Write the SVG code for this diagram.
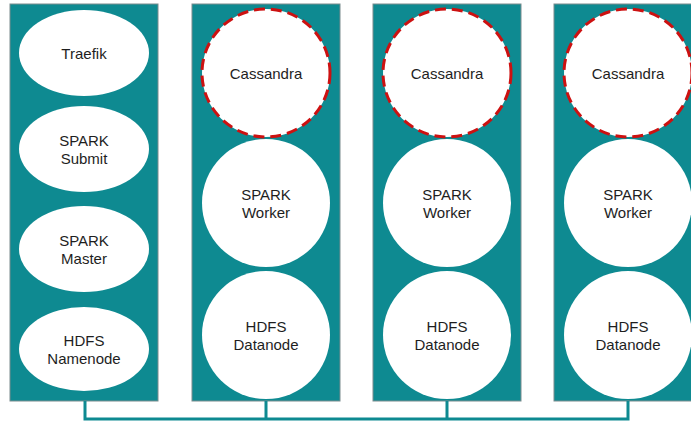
<svg xmlns="http://www.w3.org/2000/svg" width="691" height="422" viewBox="0 0 691 422">
<style>
.panel{fill:#0e8a91;stroke:#7a8c8e;stroke-width:1}
.node{fill:#ffffff;stroke:none}
.cass{fill:#ffffff;stroke:#cc1111;stroke-width:3;stroke-dasharray:11 6}
.lbl{font-family:"Liberation Sans",Arial,sans-serif;font-size:15px;fill:#1e1e1e;text-anchor:middle;dominant-baseline:central}
.conn{fill:none;stroke:#0e8a91;stroke-width:3}
</style>
<rect width="691" height="422" fill="#ffffff"/>
<g id="panels">
<rect class="panel" x="10" y="4" width="148" height="397"/>
<rect class="panel" x="192" y="4" width="148" height="397"/>
<rect class="panel" x="373" y="4" width="148" height="397"/>
<rect class="panel" x="554" y="4" width="148" height="397"/>
</g>
<g id="connectors">
<path class="conn" d="M85 401 V419 H628 V401 M266 401 V419 M447 401 V419"/>
</g>
<g id="traefik"><ellipse class="node" cx="84" cy="53" rx="65" ry="43"/><text class="lbl" x="84" y="53">Traefik</text></g>
<g id="spark-submit"><ellipse class="node" cx="84" cy="149" rx="65" ry="43"/><text class="lbl" x="84" y="140">SPARK</text><text class="lbl" x="84" y="158">Submit</text></g>
<g id="spark-master"><ellipse class="node" cx="84" cy="249" rx="65" ry="43"/><text class="lbl" x="84" y="240">SPARK</text><text class="lbl" x="84" y="258">Master</text></g>
<g id="hdfs-namenode"><ellipse class="node" cx="84" cy="349" rx="65" ry="42"/><text class="lbl" x="84" y="340">HDFS</text><text class="lbl" x="84" y="358">Namenode</text></g>

<g id="cassandra-1"><circle class="cass" cx="266" cy="73" r="64"/><text class="lbl" x="266" y="73">Cassandra</text></g>
<g id="spark-worker-1"><circle class="node" cx="266" cy="203" r="64"/><text class="lbl" x="266" y="194">SPARK</text><text class="lbl" x="266" y="212">Worker</text></g>
<g id="hdfs-datanode-1"><circle class="node" cx="266" cy="335" r="64"/><text class="lbl" x="266" y="326">HDFS</text><text class="lbl" x="266" y="344">Datanode</text></g>

<g id="cassandra-2"><circle class="cass" cx="447" cy="73" r="64"/><text class="lbl" x="447" y="73">Cassandra</text></g>
<g id="spark-worker-2"><circle class="node" cx="447" cy="203" r="64"/><text class="lbl" x="447" y="194">SPARK</text><text class="lbl" x="447" y="212">Worker</text></g>
<g id="hdfs-datanode-2"><circle class="node" cx="447" cy="335" r="64"/><text class="lbl" x="447" y="326">HDFS</text><text class="lbl" x="447" y="344">Datanode</text></g>

<g id="cassandra-3"><circle class="cass" cx="628" cy="73" r="64"/><text class="lbl" x="628" y="73">Cassandra</text></g>
<g id="spark-worker-3"><circle class="node" cx="628" cy="203" r="64"/><text class="lbl" x="628" y="194">SPARK</text><text class="lbl" x="628" y="212">Worker</text></g>
<g id="hdfs-datanode-3"><circle class="node" cx="628" cy="335" r="64"/><text class="lbl" x="628" y="326">HDFS</text><text class="lbl" x="628" y="344">Datanode</text></g>
</svg>
